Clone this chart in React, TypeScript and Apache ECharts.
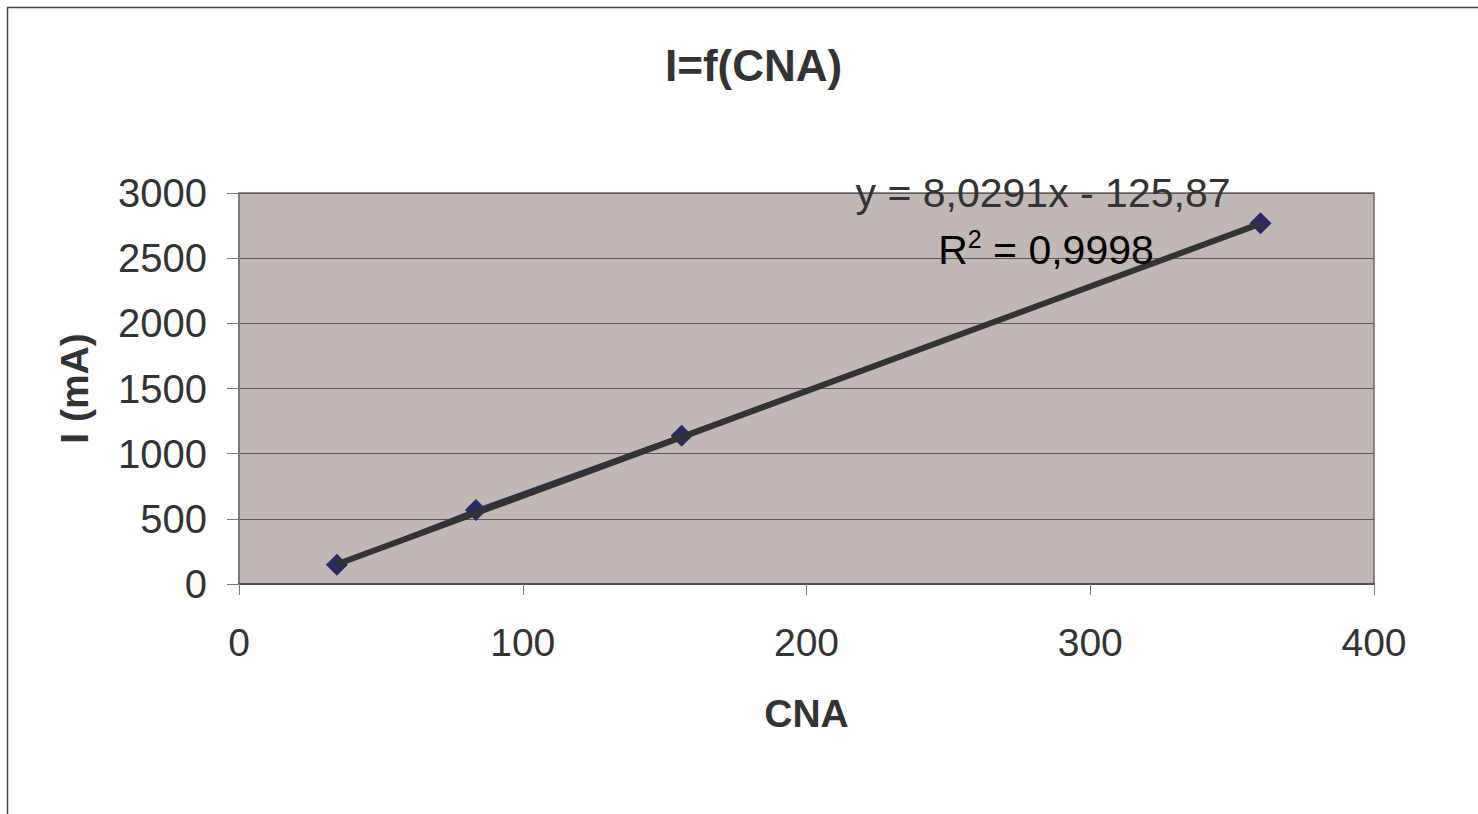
import React, { useEffect, useRef } from "react";
import * as echarts from "echarts";

const cna = [34.5, 83.5, 156, 360];
const current = [148, 568, 1138, 2768];
const slope = 8.0291;
const intercept = -125.87;
const trendX = [34.5, 360];
const xTicks = [0, 100, 200, 300, 400];
const yTicks = [0, 500, 1000, 1500, 2000, 2500, 3000];
const titleText = "I=f(CNA)";
const eqText = "y = 8,0291x - 125,87";
const r2Value = " = 0,9998";

const FONT = "Liberation Sans, Arial, Helvetica, sans-serif";
const TXT = "#333333";

export default function App() {
  const ref = useRef<HTMLDivElement>(null);
  useEffect(() => {
    document.body.style.margin = "0";
    if (!ref.current) return;
    const chart = echarts.init(ref.current, null, { renderer: "svg" });
    const pts = cna.map((x, i) => [x, current[i]]);
    const trend = trendX.map((x) => [x, slope * x + intercept]);
    chart.setOption({
      animation: false,
      backgroundColor: "#ffffff",
      textStyle: { fontFamily: FONT },
      title: {
        text: titleText,
        left: 660,
        top: 38,
        textStyle: { fontSize: 44, fontWeight: "bold", color: TXT, fontFamily: FONT },
      },
      grid: { left: 239, top: 193, right: 104, bottom: 230, show: true, backgroundColor: "#c1b7b5", borderColor: "#6e6868", borderWidth: 1.5 },
      xAxis: {
        type: "value",
        min: xTicks[0],
        max: xTicks[xTicks.length - 1],
        interval: 100,
        name: "CNA",
        nameLocation: "middle",
        nameGap: 110,
        nameTextStyle: { fontSize: 39, fontWeight: "bold", color: TXT, fontFamily: FONT },
        axisLine: { show: true, lineStyle: { color: "#555050", width: 2 } },
        axisTick: { show: true, length: 11, lineStyle: { color: "#777" } },
        axisLabel: { fontSize: 39, color: TXT, margin: 39, fontFamily: FONT, formatter: (v: number) => String(v) },
        splitLine: { show: false },
      },
      yAxis: {
        type: "value",
        min: yTicks[0],
        max: yTicks[yTicks.length - 1],
        interval: 500,
        name: "I (mA)",
        nameLocation: "middle",
        nameGap: 145,
        nameRotate: 90,
        nameTextStyle: { fontSize: 39, fontWeight: "bold", color: TXT, fontFamily: FONT },
        axisLine: { show: true, lineStyle: { color: "#777", width: 1.5 } },
        axisTick: { show: true, length: 12, lineStyle: { color: "#777" } },
        axisLabel: { fontSize: 40, color: TXT, margin: 32, fontFamily: FONT, formatter: (v: number) => String(v) },
        splitLine: { show: true, lineStyle: { color: "#5e5858", width: 1.2 } },
      },
      series: [
        {
          type: "line",
          data: pts,
          symbol: "diamond",
          symbolSize: 22,
          showSymbol: true,
          itemStyle: { color: "#2a2b64" },
          lineStyle: { color: "#2a2b64", width: 3 },
          z: 2,
        },
        {
          type: "line",
          data: trend,
          symbol: "none",
          lineStyle: { color: "#333333", width: 6 },
          z: 3,
        },
      ],
      graphic: [
        {
          type: "rect",
          shape: { x: 7.5, y: 7.5, width: 1600, height: 1000 },
          style: { fill: "none", stroke: "#444", lineWidth: 1.5 },
          silent: true,
        },
        {
          type: "text",
          x: 1043,
          y: 172,
          z: 10,
          style: { text: eqText, font: `41px ${FONT}`, fill: TXT, textAlign: "center", textVerticalAlign: "top" },
        },
        {
          type: "text",
          x: 1046,
          y: 226,
          z: 10,
          style: {
            text: "{r|R}{s|2}{r|" + r2Value + "}",
            textAlign: "center",
            textVerticalAlign: "top",
            rich: {
              r: { fontSize: 41, fontFamily: FONT, color: TXT, lineHeight: 44, verticalAlign: "bottom" },
              s: { fontSize: 25, fontFamily: FONT, color: TXT, lineHeight: 44, verticalAlign: "top", padding: [0, 0, 14, 0] },
            },
          },
        },
      ],
    });
    return () => chart.dispose();
  }, []);
  return <div ref={ref} style={{ width: 1478, height: 814 }} />;
}
